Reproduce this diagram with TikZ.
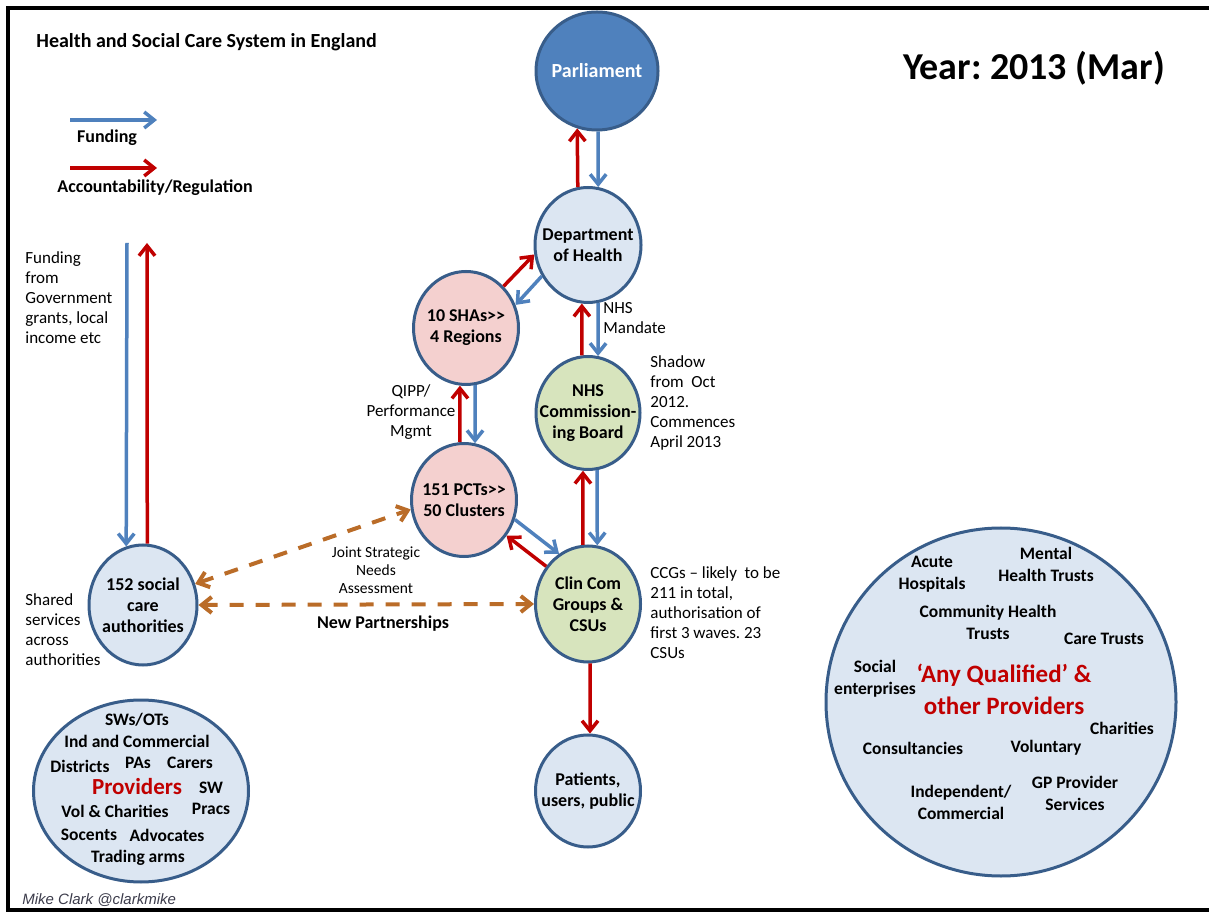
\documentclass[tikz,border=0pt]{standalone}
\usepackage{fontspec}
\setmainfont{Carlito}
\newfontfamily\creditfont{Liberation Sans}
\usetikzlibrary{shapes.geometric, arrows.meta}
\definecolor{nhsborder}{RGB}{56,93,138}
\definecolor{nhsdark}{RGB}{79,129,189}
\definecolor{nhslight}{RGB}{220,230,242}
\definecolor{nhspink}{RGB}{244,208,207}
\definecolor{nhsgreen}{RGB}{215,228,189}
\definecolor{fundblue}{RGB}{79,129,189}
\definecolor{accred}{RGB}{192,0,0}
\definecolor{partbrown}{RGB}{186,108,40}
\definecolor{credgray}{RGB}{60,60,75}
\frenchspacing

\begin{document}
\begin{tikzpicture}[x=0.5pt, y=-0.5pt]
    % Styles
    \tikzstyle{orgnode} = [ellipse, draw=nhsborder, line width=1.5pt, inner sep=0pt]
    \tikzstyle{orgtext} = [align=center, inner sep=0pt, font=\bfseries\fontsize{9}{10.5}\selectfont]
    \tikzstyle{sidenote} = [align=left, anchor=west, inner sep=0pt, font=\fontsize{8.5}{10}\selectfont]
    \tikzstyle{provitem} = [align=center, inner sep=0pt, font=\bfseries\fontsize{8.75}{11}\selectfont]
    \tikzstyle{fund} = [line width=1.75pt, -{Straight Barb[length=5pt,width=8pt]}, fundblue]
    \tikzstyle{acc} = [line width=1.75pt, -{Straight Barb[length=5pt,width=8pt]}, accred]
    \tikzstyle{partner} = [line width=2pt, dash pattern=on 7pt off 6pt,
        {Straight Barb[length=5pt,width=8pt]}-{Straight Barb[length=5pt,width=8pt]}, partbrown]

    \useasboundingbox (0,0) rectangle (1209,913);
    \draw [line width=1.75pt] (1215,8) -- (8,8) -- (8,910) -- (1215,910);

    % Titles and legend
    \node [anchor=west, inner sep=0pt, font=\bfseries\fontsize{10}{12}\selectfont] (title) at (36,42) {Health and Social Care System in England};
    \node [inner sep=0pt, font=\bfseries\fontsize{19}{22}\selectfont] (year) at (1034,68) {Year: 2013 (Mar)};
    \coordinate (fundL) at (70,120);
    \coordinate (fundR) at (157,120);
    \coordinate (accL) at (70,168);
    \coordinate (accR) at (157,168);
    \draw [fund] (fundL) -- (fundR);
    \draw [acc] (accL) -- (accR);
    \node [inner sep=0pt, font=\bfseries\fontsize{9}{11}\selectfont] (fundlbl) at (107,138) {Funding};
    \node [inner sep=0pt, font=\bfseries\fontsize{9}{11}\selectfont] (acclbl) at (155,188) {Accountability/Regulation};

    % Bodies
    \node [orgnode, fill=nhsdark, minimum width=61pt, minimum height=59pt,
        label={[orgtext, text=white, font=\bfseries\fontsize{10}{12}\selectfont]center:Parliament}] (parl) at (597,71) {};
    \node [orgnode, fill=nhslight, minimum width=53pt, minimum height=57.5pt,
        label={[orgtext]center:Department\\of Health}] (doh) at (588,245) {};
    \node [orgnode, fill=nhspink, minimum width=52.5pt, minimum height=56.5pt,
        label={[orgtext]center:10 SHAs>{}>\\4 Regions}] (sha) at (466,328) {};
    \node [orgnode, fill=nhsgreen, minimum width=52pt, minimum height=56.5pt,
        label={[orgtext]center:NHS\\Commission-\\ing Board}] (ncb) at (588,413) {};
    \node [orgnode, fill=nhspink, minimum width=52.5pt, minimum height=56.5pt,
        label={[orgtext]center:151 PCTs>{}>\\50 Clusters}] (pct) at (464,500) {};
    \node [orgnode, fill=nhsgreen, minimum width=52.5pt, minimum height=58pt,
        label={[orgtext]center:Clin Com\\Groups \&\\CSUs}] (ccg) at (588,604) {};
    \node [orgnode, fill=nhslight, minimum width=52.5pt, minimum height=56pt,
        label={[orgtext]center:Patients,\\users, public}] (pat) at (588,791) {};
    \node [orgnode, fill=nhslight, minimum width=54pt, minimum height=60pt,
        label={[orgtext]center:152 social\\care\\authorities}] (sca) at (143,605) {};
    \node [orgnode, fill=nhslight, minimum width=107.5pt, minimum height=91pt] (smallprov) at (141,791) {};
    \node [orgnode, fill=nhslight, minimum width=175pt, minimum height=174pt] (anyprov) at (1001,702) {};

    % Arrows
    \draw [acc] (doh.100) -- (parl.-109);
    \draw [fund] (parl.-89) -- (doh.80);
    \draw [acc] (sha.48) -- (doh.190);
    \draw [fund] (doh.214) -- (sha.25);
    \draw [acc] (ncb.96) -- (doh.-96);
    \draw [fund] (doh.-80) -- (ncb.80);
    \draw [acc] (pct.94) -- (sha.-96);
    \draw [fund] (sha.-81) -- (pct.79);
    \draw [acc] (ccg.95) -- (ncb.-95);
    \draw [fund] (ncb.-81) -- (ccg.81);
    \draw [fund] (pct.-21) -- (ccg.120);
    \draw [acc] (ccg.138) -- (pct.-40);
    \draw [acc] (ccg.-88) -- (pat.88);
    \coordinate (govtop) at (127,243);
    \coordinate (acctop) at (147,243);
    \draw [fund] (govtop) -- (sca.106);
    \draw [acc] (sca.86) -- (acctop);
    \draw [partner] (sca.22) -- (pct.190);
    \draw [partner] (sca.east) -- (ccg.west);

    % Side notes
    \node [sidenote] (govnote) at (25,298) {Funding\\from\\Government\\grants, local\\income etc};
    \node [sidenote] (sharednote) at (25,630) {Shared\\services\\across\\authorities};
    \node [sidenote] (mandate) at (603,318) {NHS\\Mandate};
    \node [sidenote] (shadow) at (650,403) {Shadow\\from~ Oct\\2012.\\Commences\\April 2013};
    \node [sidenote] (ccgnote) at (650,613) {CCGs -- likely~ to be\\211 in total,\\authorisation of\\first 3 waves. 23\\CSUs};
    \node [sidenote, anchor=center, align=center] (qipp) at (411,412) {QIPP/\\Performance\\Mgmt};
    \node [align=center, inner sep=0pt, font=\fontsize{7.75}{9}\selectfont] (jsna) at (376,570) {Joint Strategic\\Needs\\Assessment};
    \node [inner sep=0pt, font=\bfseries\fontsize{9}{11}\selectfont] (newpart) at (383,624) {New Partnerships};

    % Local providers
    \node [provitem] at (137,720) {SWs/OTs};
    \node [provitem] at (137,741) {Ind and Commercial};
    \node [provitem] at (80,766) {Districts};
    \node [provitem] at (138,763) {PAs};
    \node [provitem] at (190,763) {Carers};
    \node [provitem, text=accred, font=\bfseries\fontsize{11.5}{13}\selectfont] at (137,787) {Providers};
    \node [provitem] at (211,788) {SW};
    \node [provitem] at (115,811) {Vol \& Charities};
    \node [provitem] at (211,809) {Pracs};
    \node [provitem] at (89,835) {Socents};
    \node [provitem] at (167,835) {Advocates};
    \node [provitem] at (138,858) {Trading arms};

    % Any qualified providers
    \node [provitem] at (932,574) {Acute\\Hospitals};
    \node [provitem] at (1046,564) {Mental\\Health Trusts};
    \node [provitem] at (988,622) {Community Health\\Trusts};
    \node [provitem] at (1104,639) {Care Trusts};
    \node [provitem] at (875,679) {Social\\enterprises};
    \node [provitem, text=accred, font=\bfseries\fontsize{12.5}{16}\selectfont] at (1004,689) {`Any Qualified' \&\\other Providers};
    \node [provitem] at (1122,728) {Charities};
    \node [provitem] at (913,748) {Consultancies};
    \node [provitem] at (1046,748) {Voluntary};
    \node [provitem] at (961,802) {Independent/\\Commercial};
    \node [provitem] at (1075,793) {GP Provider\\Services};

    \node [anchor=west, inner sep=0pt, text=credgray, font=\creditfont\itshape\fontsize{7.5}{9}\selectfont] (credit) at (22,900) {Mike Clark @clarkmike};
\end{tikzpicture}
\end{document}
